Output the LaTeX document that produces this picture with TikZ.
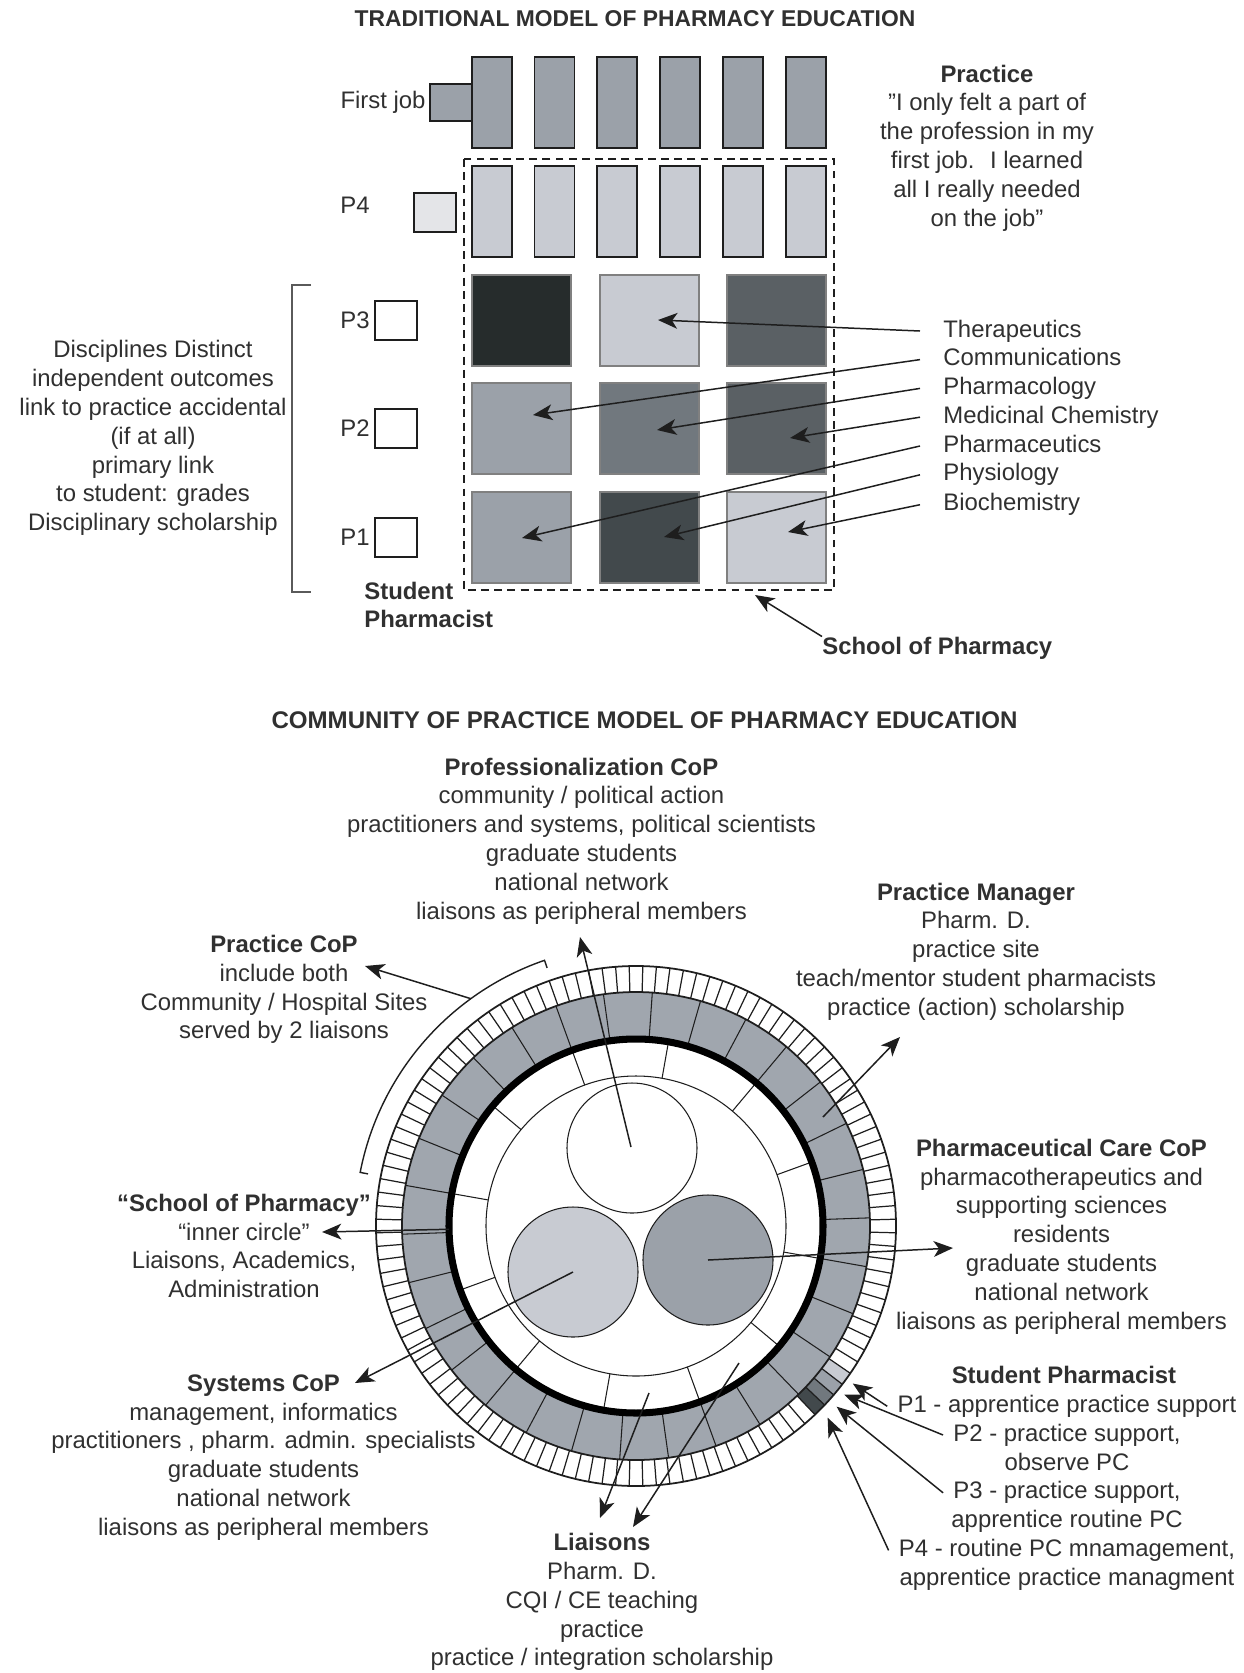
\documentclass[tikz,border=0pt]{standalone}
\usepackage{fontspec}
\setmainfont{Liberation Sans}
\setsansfont{Liberation Sans}
\usetikzlibrary{arrows.meta}

\definecolor{inkGray}{HTML}{1E1E1E}
\definecolor{textGray}{HTML}{303030}
\definecolor{blockLight}{HTML}{C8CBD2}
\definecolor{blockPale}{HTML}{E4E5E8}
\definecolor{blockMid}{HTML}{9BA1A9}
\definecolor{blockSteel}{HTML}{71787E}
\definecolor{blockSlate}{HTML}{5A6064}
\definecolor{blockCoal}{HTML}{42494C}
\definecolor{blockBlack}{HTML}{262C2C}
\definecolor{ringGray}{HTML}{A0A6AE}
\definecolor{bracketGray}{HTML}{5A5A5A}

% One discipline block of the grid: left, top, fill.
\newcommand{\discblock}[3]{%
  \fill[#3] (#1,#2) rectangle ++(99,91);
  \draw[black!50,line width=0.7pt] (#1,#2) rectangle ++(99,91);
}
% One narrow practice column: left, top, fill.
\newcommand{\jobbar}[3]{%
  \draw[inkGray,fill=#3,line width=1pt] (#1,#2) rectangle ++(40,91);
}
% A year marker box beside the grid: left, top, fill.
\newcommand{\yearbox}[3]{%
  \draw[inkGray,fill=#3,line width=1pt] (#1,#2) rectangle ++(42,39);
}
% One coloured cell of the outer ring: from angle, to angle, fill.
\newcommand{\ringcell}[3]{%
  \fill[#3] (#1:234) arc[start angle=#1,end angle=#2,radius=234]
    -- (#2:260) arc[start angle=#2,end angle=#1,radius=260] -- cycle;
}

\begin{document}
\begin{tikzpicture}[x=0.2mm,y=-0.2mm,
  font=\fontsize{13.6}{16.4}\selectfont,text=textGray,
  txt/.style={align=center,inner sep=0pt},
  oneline/.style={inner ysep=0pt,text height=10pt,text depth=3pt},
  heading/.style={inner sep=0pt,font=\fontsize{13}{16}\selectfont\bfseries},
  disc/.style={oneline,anchor=west,inner xsep=4.6mm},
  arr/.style={draw=inkGray,line width=0.85pt,-{Stealth[length=11pt,width=9pt,inset=3pt]}}]
\useasboundingbox (0,0) rectangle (1244,1673);

% Traditional model: practice on top, disciplines below.
\node[heading] (titleA) at (635,19) {TRADITIONAL MODEL OF PHARMACY EDUCATION};

\draw[inkGray,fill=blockMid,line width=1pt] (430,84) rectangle (472,121);
\foreach \x in {472,534.5,597,660,723,786} {
  \jobbar{\x}{57}{blockMid}
  \jobbar{\x}{166}{blockLight}
}
\yearbox{414}{193}{blockPale}
\foreach \y in {301,409,518} {
  \yearbox{375}{\y}{white}
}

\foreach \x/\y/\c in {472/275/blockBlack,600/275/blockLight,727/275/blockSlate,
                      472/383/blockMid,600/383/blockSteel,727/383/blockSlate,
                      472/492/blockMid,600/492/blockCoal,727/492/blockLight} {
  \discblock{\x}{\y}{\c}
}

% School of Pharmacy boundary and the bracket of P1 to P3.
\draw[inkGray,line width=1.1pt,dash pattern=on 4.5pt off 3pt] (464,159) rectangle (834,590);
\draw[bracketGray,line width=1.2pt] (311,285) -- (292,285) -- (292,592) -- (311,592);

\node[txt] (firstjob) at (383,102) {First job};
\node[txt] (pfour) at (355,205) {P4};
\node[txt] (pthree) at (355,320) {P3};
\node[txt] (ptwo) at (355,428) {P2};
\node[txt] (pone) at (355,537) {P1};

\node[txt] (quote) at (987,148) {\textbf{Practice}\\\symbol{34}I only felt a part of\\the profession in my\\first job.~ I learned\\all I really needed\\on the job\symbol{34}};

\node[txt] (disciplines) at (153,438) {Disciplines Distinct\\independent outcomes\\link to practice accidental\\(if at all)\\primary link\\to student: grades\\Disciplinary scholarship};

\node[txt,align=left,anchor=west] (studentA) at (364,605) {\textbf{Student}\\\textbf{Pharmacist}};
\node[txt,anchor=west] (schoolA) at (822,648) {\textbf{School of Pharmacy}};
\coordinate (schoolTipA) at (755,595);
\draw[arr] (schoolA.north west) -- (schoolTipA);

% Disciplines and the block each one fills.
\node[disc] (therap) at (920,331) {Therapeutics};
\node[disc] (comms) at (920,359.6) {Communications};
\node[disc] (pharmacol) at (920,388.4) {Pharmacology};
\node[disc] (medchem) at (920,417.2) {Medicinal Chemistry};
\node[disc] (pharmaceut) at (920,446) {Pharmaceutics};
\node[disc] (physio) at (920,474.8) {Physiology};
\node[disc] (biochem) at (920,504.7) {Biochemistry};

\foreach \name/\tx/\ty in {therap/658/320,comms/533/415,pharmacol/657/430,
                           medchem/790/438,pharmaceut/522/538,physio/664/537,
                           biochem/788/532} {
  \coordinate (\name Tip) at (\tx,\ty);
  \draw[arr] (\name.west) -- (\name Tip);
}

% Community of practice model.
\node[heading,font=\fontsize{13.7}{16}\selectfont\bfseries] (titleB) at (644.5,720) {COMMUNITY OF PRACTICE MODEL OF PHARMACY EDUCATION};

\begin{scope}[shift={(636,1226)},yscale=-1]
  % Gray band of practice sites.
  \fill[ringGray,even odd rule] (0,0) circle (234) (0,0) circle (190);
  \foreach \a in {2,14,...,350} {
    \draw[inkGray,line width=0.6pt] (\a:190) -- (\a:234);
  }
  % Outer hatched ring, four cells coloured for the student years.
  \ringcell{-37.5}{-34.5}{blockLight}
  \ringcell{-40.5}{-37.5}{blockMid}
  \ringcell{-43.5}{-40.5}{blockSteel}
  \ringcell{-46.5}{-43.5}{blockCoal}
  \foreach \a in {1.5,4.5,...,358.5} {
    \draw[inkGray,line width=0.7pt] (\a:234) -- (\a:260);
  }
  \draw[inkGray,line width=1pt] (0,0) circle (234) (0,0) circle (260);
  % Inner white ring and the three communities.
  \foreach \a in {20,50,...,350} {
    \draw[inkGray,line width=0.6pt] (\a:150) -- (\a:187);
  }
  \draw[inkGray,line width=0.6pt] (0,0) circle (150);
  \draw[black,line width=4pt] (0,0) circle (187);
  \draw[inkGray,line width=0.6pt,fill=white] (-4,78) circle (65);
  \draw[inkGray,line width=0.6pt,fill=blockLight] (-63,-46) circle (65);
  \draw[inkGray,line width=0.6pt,fill=blockMid] (72,-34) circle (65);
  % Bracket over the practice sites.
  \draw[inkGray,line width=0.8pt] (109:273) -- (109:281)
    arc[start angle=109,end angle=169,radius=281] -- (169:273);
  \coordinate (profTail) at (-5,79);
  \coordinate (sysTail) at (-63,-46);
  \coordinate (careTail) at (72,-34);
  \coordinate (schoolTail) at (181:187);
  \coordinate (pcTail) at (126:281);
  \coordinate (spOneTip) at (-36:268);
  \coordinate (spTwoTip) at (-39:268);
  \coordinate (spThreeTip) at (-42:270);
  \coordinate (spFourTip) at (-45:271);
\end{scope}

\node[txt] (profCoP) at (581.5,841) {\textbf{Professionalization CoP}\\community / political action\\practitioners and systems, political scientists\\graduate students\\national network\\liaisons as peripheral members};
\node[txt] (pracMgr) at (976,951.5) {\textbf{Practice Manager}\\Pharm. D.\\practice site\\teach/mentor student pharmacists\\practice (action) scholarship};
\node[txt] (pracCoP) at (284,989.5) {\textbf{Practice CoP}\\include both\\Community / Hospital Sites\\served by 2 liaisons};
\node[txt] (schoolB) at (244,1246) {\textbf{“School of Pharmacy”}\\“inner circle”\\Liaisons, Academics,\\Administration};
\node[txt] (pharmCare) at (1061.5,1236.5) {\textbf{Pharmaceutical Care CoP}\\pharmacotherapeutics and\\supporting sciences\\residents\\graduate students\\national network\\liaisons as peripheral members};
\node[txt] (sysCoP) at (263.5,1457.5) {\textbf{Systems CoP}\\management, informatics\\practitioners , pharm. admin. specialists\\graduate students\\national network\\liaisons as peripheral members};
\node[txt] (liaisons) at (602,1602) {\textbf{Liaisons}\\Pharm. D.\\CQI / CE teaching\\practice\\practice / integration scholarship};

\node[txt,oneline] (studentB) at (1064,1377.5) {\textbf{Student Pharmacist}};
\node[txt,oneline,inner xsep=2mm] (spOne) at (1067,1406.3) {P1 - apprentice practice support};
\node[txt,oneline,inner xsep=2mm] (spTwo) at (1067,1435) {P2 - practice support,};
\node[txt,oneline] (spTwoB) at (1067,1464) {observe PC};
\node[txt,oneline,inner xsep=2mm] (spThree) at (1067,1492.8) {P3 - practice support,};
\node[txt,oneline] (spThreeB) at (1067,1521.5) {apprentice routine PC};
\node[txt,oneline,inner xsep=2mm] (spFour) at (1067,1550.4) {P4 - routine PC mnamagement,};
\node[txt,oneline] (spFourB) at (1067,1579) {apprentice practice managment};

% Arrows from each community out to its description.
\coordinate (profTip) at (580,937);
\coordinate (mgrTail) at (823,1117);
\coordinate (mgrTip) at (900,1037);
\coordinate (careTip) at (953,1248);
\coordinate (schoolTipB) at (322,1232);
\coordinate (pcTip) at (365,966);
\coordinate (sysTip) at (355,1383);
\coordinate (liaTailA) at (649,1393);
\coordinate (liaTipA) at (600,1518);
\coordinate (liaTailB) at (739,1363);
\coordinate (liaTipB) at (633,1527);

\draw[arr] (profTail) -- (profTip);
\draw[arr] (mgrTail) -- (mgrTip);
\draw[arr] (careTail) -- (careTip);
\draw[arr] (schoolTail) -- (schoolTipB);
\draw[arr] (pcTail) -- (pcTip);
\draw[arr] (sysTail) -- (sysTip);
\draw[arr] (liaTailA) -- (liaTipA);
\draw[arr] (liaTailB) -- (liaTipB);

\draw[arr] (spOne.west) -- (spOneTip);
\draw[arr] (spTwo.west) -- (spTwoTip);
\draw[arr] (spThree.west) -- (spThreeTip);
\draw[arr] (spFour.west) -- (spFourTip);

\end{tikzpicture}
\end{document}
